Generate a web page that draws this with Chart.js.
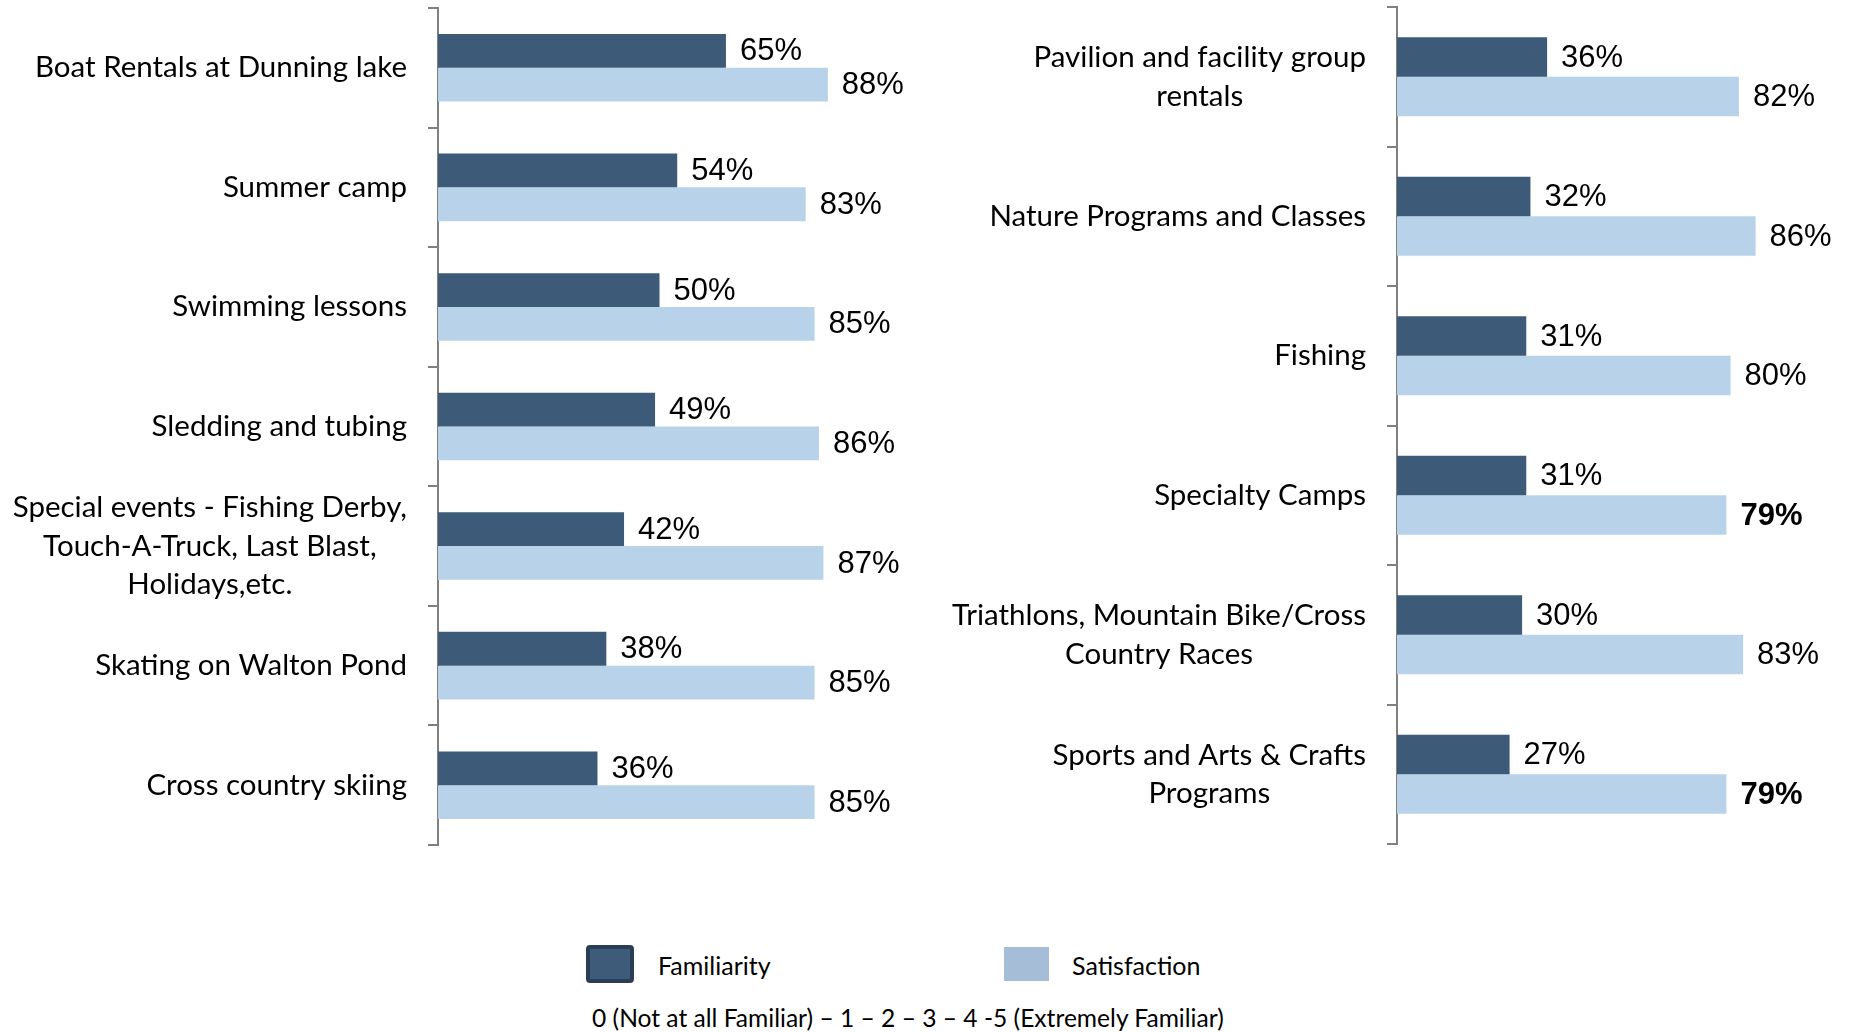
<!DOCTYPE html>
<html>
<head>
<meta charset="utf-8">
<script src="https://cdn.jsdelivr.net/npm/chart.js@4/dist/chart.umd.min.js"></script>
<style>
  body { margin: 0; background: #fff; width: 1852px; height: 1032px; position: relative; overflow: hidden; font-family: Lato, sans-serif; }
  .box { position: absolute; top: 0; height: 900px; }
  .sw { position: absolute; box-sizing: border-box; }
  .txt { position: absolute; font-size: 25px; color: #000; line-height: 1; transform: translateY(-50%); white-space: nowrap; }
</style>
</head>
<body>
<div class="box" style="left:0;width:930px"><canvas id="leftChart"></canvas></div>
<div class="box" style="left:930px;width:922px"><canvas id="rightChart"></canvas></div>

<div class="sw" style="left:586px;top:945px;width:48px;height:38px;background:#3e5b7a;border:4px solid #2a3f55;border-radius:4px"></div>
<div class="txt" style="left:658px;top:965px">Familiarity</div>
<div class="sw" style="left:1004px;top:947px;width:45px;height:34px;background:#a6bdd7"></div>
<div class="txt" style="left:1072px;top:965px">Satisfaction</div>
<div class="txt" style="left:592px;top:1018px;font-size:24.6px">0 (Not at all Familiar) – 1 – 2 – 3 – 4 -5 (Extremely Familiar)</div>

<script>
// left panel
const leftLabels = [
    "Boat Rentals at Dunning lake",
    "Summer camp",
    "Swimming lessons",
    "Sledding and tubing",
    ["Special events - Fishing Derby,", "Touch-A-Truck, Last Blast,", "Holidays,etc."],
    "Skating on Walton Pond",
    "Cross country skiing"
];
const leftFamiliarity = [65, 54, 50, 49, 42, 38, 36];
const leftSatisfaction = [88, 83, 85, 86, 87, 85, 85];

// right panel
const rightLabels = [
    ["Pavilion and facility group", "rentals"],
    "Nature Programs and Classes",
    "Fishing",
    "Specialty Camps",
    ["Triathlons, Mountain Bike/Cross", "Country Races"],
    ["Sports and Arts & Crafts", "Programs"]
];
const rightFamiliarity = [36, 32, 31, 31, 30, 27];
const rightSatisfaction = [82, 86, 80, 79, 83, 79];

const DARK = "#3d5a78";
const LIGHT = "#b8d3e9";

// draws category labels (right aligned block, lines centred) and value labels
const labelPlugin = {
    id: "labelPlugin",
    afterDatasetsDraw(chart, args, opts) {
        const ctx = chart.ctx;
        const yScale = chart.scales.y;
        ctx.save();
        ctx.font = "29.5px Lato";
        ctx.fillStyle = "#000";
        ctx.textBaseline = "middle";
        ctx.textAlign = "center";
        chart.data.labels.forEach(function(lbl, i) {
            let lines = Array.isArray(lbl) ? lbl : [lbl];
            let yc = yScale.getPixelForValue(i);
            let w = Math.max(...lines.map(l => ctx.measureText(l).width));
            let cx = yScale.right - opts.gap - w / 2;
            lines.forEach(function(l, k) {
                ctx.fillText(l, cx, yc + (k - (lines.length - 1) / 2) * opts.lineHeight);
            });
        });

        ctx.textAlign = "left";
        chart.data.datasets.forEach(function(ds, di) {
            let meta = chart.getDatasetMeta(di);
            meta.data.forEach(function(bar, i) {
                let bold = di === 1 && opts.boldSat.includes(i);
                ctx.font = (bold ? "bold " : "") + "31px 'Liberation Sans', Arial";
                ctx.fillText(ds.data[i] + "%", bar.x + 14, bar.y + 1);
            });
        });
        ctx.restore();
    }
};

function makeChart(id, labels, fam, sat, padding, boldSat) {
    return new Chart(document.getElementById(id).getContext("2d"), {
        type: "bar",
        data: {
            labels: labels,
            datasets: [
                { label: "Familiarity", data: fam, backgroundColor: DARK },
                { label: "Satisfaction", data: sat, backgroundColor: LIGHT }
            ]
        },
        options: {
            indexAxis: "y",
            responsive: true,
            maintainAspectRatio: false,
            animation: false,
            layout: { padding: padding },
            datasets: { bar: { categoryPercentage: 0.565, barPercentage: 1 } },
            scales: {
                x: { display: false, min: 0, max: 100 },
                y: {
                    ticks: { display: false },
                    grid: { drawOnChartArea: false, drawTicks: true, tickLength: 10, color: "#808080", lineWidth: 2 },
                    border: { display: true, color: "#808080", width: 2 }
                }
            },
            plugins: {
                legend: { display: false },
                tooltip: { enabled: false },
                labelPlugin: { gap: 31, lineHeight: 38.5, boldSat: boldSat }
            }
        },
        plugins: [labelPlugin]
    });
}

makeChart("leftChart", leftLabels, leftFamiliarity, leftSatisfaction,
    { left: 428, right: 49, top: 8, bottom: 55 }, []);
makeChart("rightChart", rightLabels, rightFamiliarity, rightSatisfaction,
    { left: 457, right: 38, top: 7, bottom: 56 }, [3, 5]);
</script>
</body>
</html>
